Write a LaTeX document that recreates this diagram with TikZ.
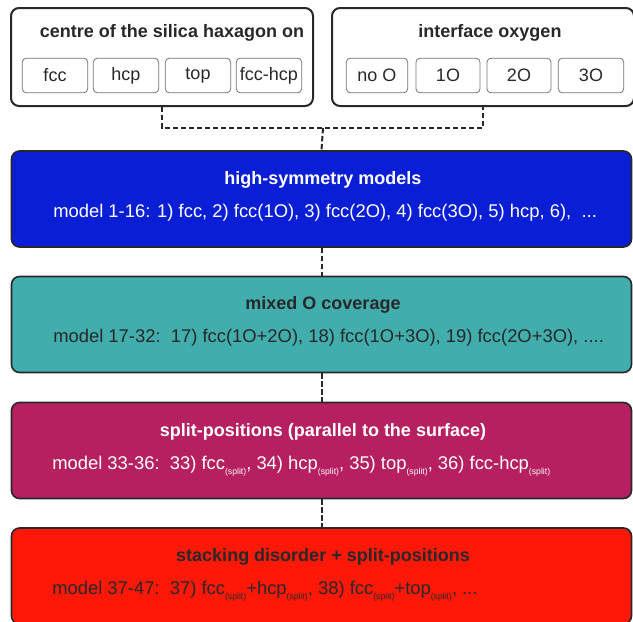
\documentclass[tikz,border=0pt]{standalone}
\usepackage{fontspec}
\setmainfont{Liberation Sans}
\usepackage{tikz}
\definecolor{hsblue}{RGB}{10,30,214}
\definecolor{mixteal}{RGB}{65,173,173}
\definecolor{splmag}{RGB}{182,31,96}
\definecolor{stkred}{RGB}{255,24,8}
\definecolor{ink}{RGB}{40,40,40}
\newcommand{\splitsub}{\raisebox{-0.55ex}{\fontsize{6.5}{7}\selectfont(split)}}

\begin{document}
\begin{tikzpicture}[x=0.75pt, y=-0.75pt,
  outer/.style={draw=ink, line width=1.5pt, rounded corners=6pt, minimum width=226.5pt, minimum height=73.5pt, inner sep=0pt},
  choice/.style={draw=black!55, line width=0.6pt, rounded corners=3pt, minimum height=26pt, inner sep=0pt, font=\fontsize{13.5}{16}\selectfont, text=ink},
  level/.style={draw=ink, line width=1.2pt, rounded corners=6pt, minimum width=465pt, minimum height=72pt, inner sep=0pt},
  title/.style={font=\fontsize{13.5}{16}\selectfont\bfseries},
  line/.style={font=\fontsize{13.8}{16}\selectfont, anchor=west, inner sep=0pt},
  link/.style={draw=ink, line width=1.5pt, dash pattern=on 4pt off 2pt}]

\clip (0,0) rectangle (633,622);

\node[outer] (hexbox) at (162,57) {};
\node[outer] (oxbox) at (483,57) {};
\node[title, text=ink] (hextitle) at (172,33) {centre of the silica haxagon on};
\node[title, text=ink] (oxtitle) at (490,33) {interface oxygen};

\node[choice, minimum width=49pt] (fcc) at (55,75.5) {fcc};
\node[choice, minimum width=49pt] (hcp) at (126,75.5) {hcp};
\node[choice, minimum width=49pt] (top) at (198,75.5) {top};
\node[choice, minimum width=49pt] (fcchcp) at (269,75.5) {fcc-hcp};
\node[choice, minimum width=46pt] (noO) at (377,75.5) {no O};
\node[choice, minimum width=48pt] (oneO) at (448,75.5) {1O};
\node[choice, minimum width=48pt] (twoO) at (519,75.5) {2O};
\node[choice, minimum width=49pt] (threeO) at (591,75.5) {3O};

\node[level, fill=hsblue] (highsym) at (321.5,199) {};
\node[title, text=white] (hstitle) at (323,180) {high-symmetry models};
\node[line, text=white] (hstext) at (53,213) {model 1-16: 1) fcc, 2) fcc(1O), 3) fcc(2O), 4) fcc(3O), 5) hcp, 6),\ \ ...};

\node[level, fill=mixteal] (mixed) at (321.5,324.5) {};
\node[title, text=ink] (mxtitle) at (323,305) {mixed O coverage};
\node[line, text=ink] (mxtext) at (53,338) {model 17-32:\ \ 17) fcc(1O+2O), 18) fcc(1O+3O), 19) fcc(2O+3O), ....};

\node[level, fill=splmag] (split) at (321.5,450.5) {};
\node[title, text=white] (sptitle) at (323,432) {split-positions (parallel to the surface)};
\node[line, text=white] (sptext) at (52,466) {model 33-36:\ \ 33) fcc\splitsub, 34) hcp\splitsub, 35) top\splitsub, 36) fcc-hcp\splitsub};

\node[level, fill=stkred] (stack) at (321.5,576) {};
\node[title, text=ink] (sttitle) at (323,557) {stacking disorder + split-positions};
\node[line, text=ink] (sttext) at (52,591) {model 37-47:\ \ 37) fcc\splitsub+hcp\splitsub, 38) fcc\splitsub+top\splitsub, ...};

\coordinate (join) at (323,128);
\draw[link] (hexbox.south) |- (join) -| (oxbox.south);
\draw[link] (join) -- (highsym.north);
\draw[link] (highsym.south) -- (mixed.north);
\draw[link] (mixed.south) -- (split.north);
\draw[link] (split.south) -- (stack.north);
\end{tikzpicture}
\end{document}
